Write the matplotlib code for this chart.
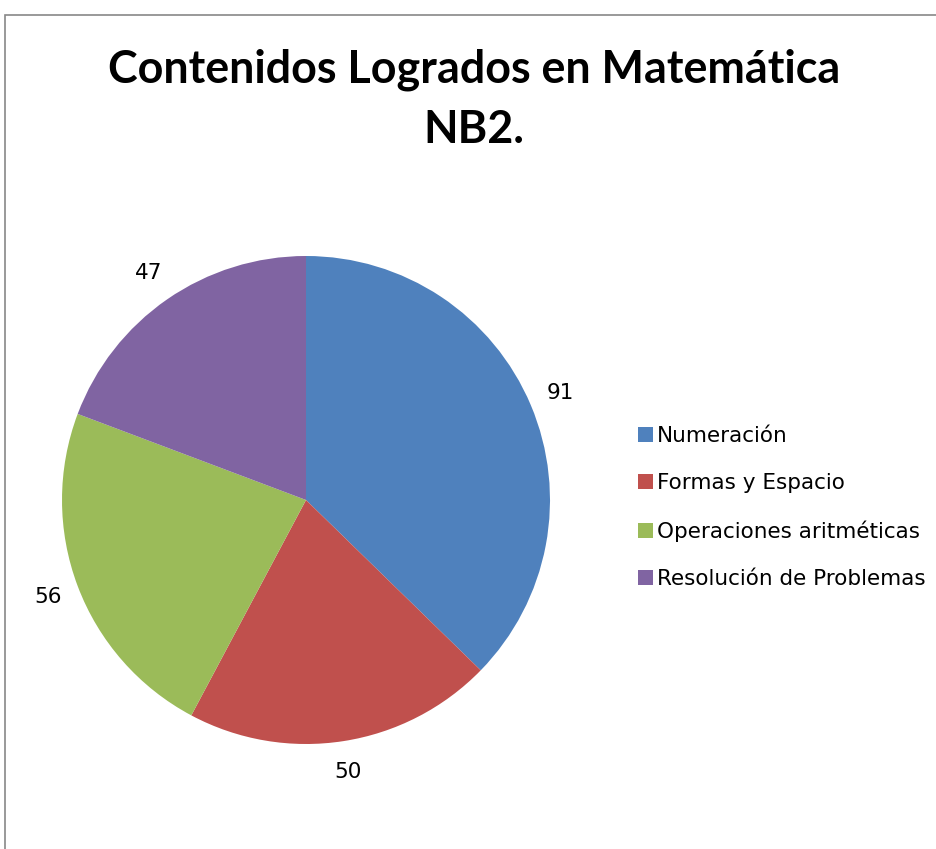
import numpy as np
import matplotlib.pyplot as plt
from matplotlib.patches import Rectangle

# chart data
categories = ['Numeración', 'Formas y Espacio', 'Operaciones aritméticas', 'Resolución de Problemas']
values = [91, 50, 56, 47]
colors = ['#4F81BD', '#C0504D', '#9BBB59', '#8064A2']

W, H = 937, 849
fig = plt.figure(figsize=(W / 100, H / 100), dpi=100)

# pie axes: centre (306, 500), radius 244 px
ax = fig.add_axes([(306 - 244) / W, (H - 744) / H, 488 / W, 488 / H])
wedges, texts = ax.pie(values, colors=colors, startangle=90, counterclock=False,
                       labels=[str(v) for v in values],
                       wedgeprops=dict(linewidth=0),
                       textprops=dict(fontsize=15.5, family='DejaVu Sans', color='black'))
# centre the value labels just outside each slice
for t, w in zip(texts, wedges):
    ang = np.deg2rad((w.theta1 + w.theta2) / 2)
    t.set_position((1.13 * np.cos(ang), 1.13 * np.sin(ang)))
    t.set_ha('center')
    t.set_va('center')
ax.set_xlim(-1, 1)
ax.set_ylim(-1, 1)
ax.set_aspect('equal')

fig.text(0.5 * (108 + 840) / W, 1 - 70 / H, 'Contenidos Logrados en Matemática',
         ha='center', va='center', fontsize=32.3, fontweight='bold', family='Lato')
fig.text(0.5 * (108 + 840) / W, 1 - 130 / H, 'NB2.',
         ha='center', va='center', fontsize=32.3, fontweight='bold', family='Lato')

leg = fig.legend(wedges, categories, loc='upper left',
                 bbox_to_anchor=(619 / W, 1 - 407 / H), frameon=False,
                 handlelength=0.7, handleheight=0.7, handletextpad=0.15,
                 labelspacing=1.25, prop=dict(family='DejaVu Sans', size=15.5))

# chart area border (top and left visible)
fig.add_artist(Rectangle((5.5 / W, -0.1), 1.2, (H - 14.5) / H + 0.1, fill=False,
                         edgecolor='#888888', linewidth=1.2, transform=fig.transFigure))

fig.savefig('out.png', dpi=100)
